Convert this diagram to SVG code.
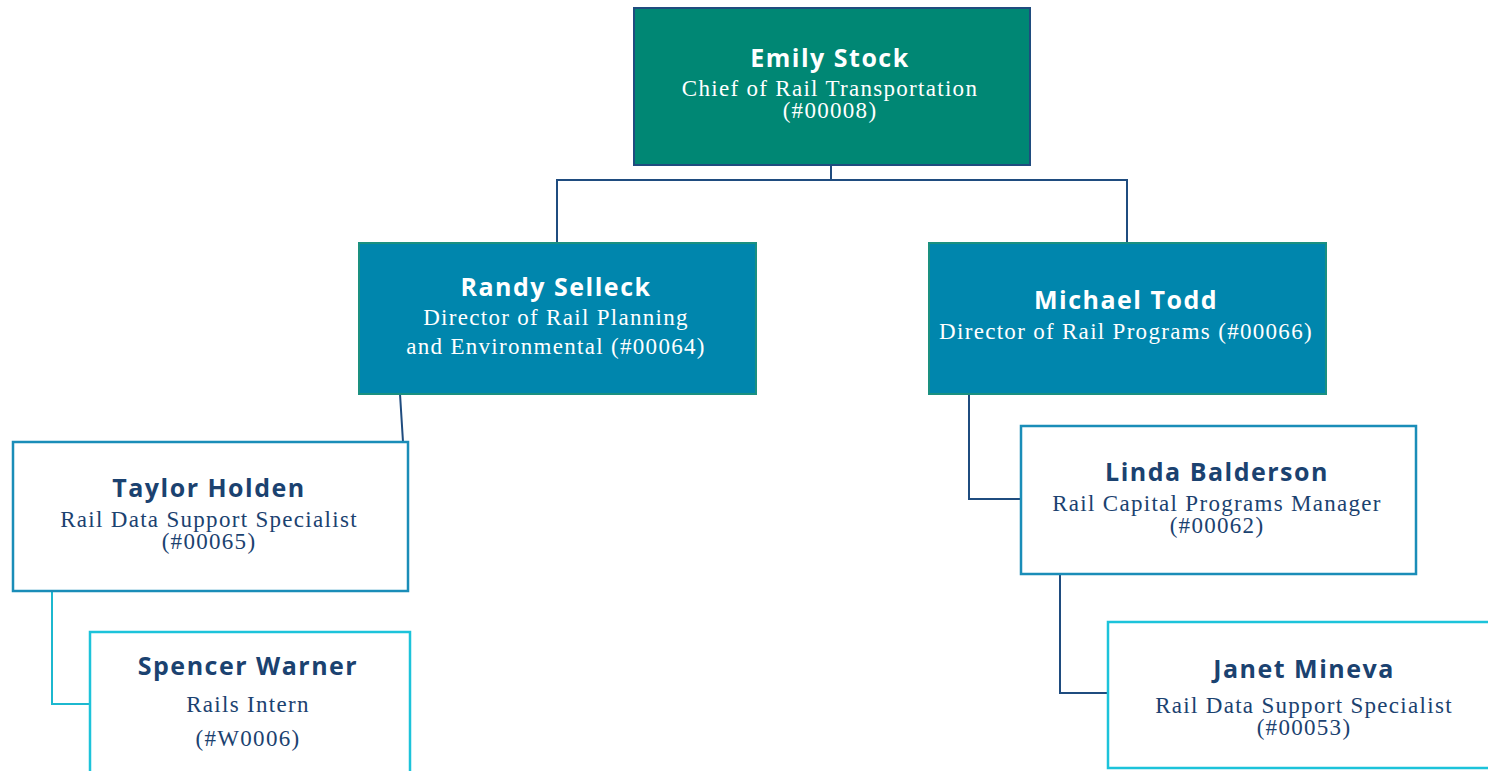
<svg xmlns="http://www.w3.org/2000/svg" width="1488" height="771" viewBox="0 0 1488 771">
<style>
.name{font-family:"Open Sans","Inter",sans-serif;font-weight:700;font-size:25px;text-anchor:middle;letter-spacing:1.5px}
.sub{font-family:"Liberation Serif","DejaVu Serif",serif;font-size:23px;text-anchor:middle;letter-spacing:1.3px}
.w{fill:#ffffff}
.n{fill:#1B4270}
.top{fill:#008774;stroke:#1F4C7F;stroke-width:2}
.dir{fill:#0086AD;stroke:#1A9080;stroke-width:2}
.mid{fill:#ffffff;stroke:#1A8DB8;stroke-width:2.5}
.low{fill:#ffffff;stroke:#1CC3DA;stroke-width:2.5}
.c{fill:none;stroke:#1F4C7F;stroke-width:2}
.cc{fill:none;stroke:#1CB8CF;stroke-width:2}
</style>
<rect width="1488" height="771" fill="#ffffff"/>
<g id="connectors">
<path class="c" d="M831 165 V180 H557 V243 M831 180 H1127 V243"/>
<path class="c" d="M400 394 L403 442"/>
<path class="cc" d="M52 591 V704 H90"/>
<path class="c" d="M969 394 V499 H1021"/>
<path class="c" stroke="#1D5A8A" d="M1060 574 V693 H1108"/>
</g>
<g id="emily">
<rect class="top" x="634" y="8" width="396" height="157"/>
<text class="name w" x="830" y="67">Emily Stock</text>
<text class="sub w" x="830" y="96">Chief of Rail Transportation</text>
<text class="sub w" x="830" y="118">(#00008)</text>
</g>
<g id="randy">
<rect class="dir" x="359" y="243" width="397" height="151"/>
<text class="name w" x="556" y="296">Randy Selleck</text>
<text class="sub w" x="556" y="325">Director of Rail Planning</text>
<text class="sub w" x="556" y="354">and Environmental (#00064)</text>
</g>
<g id="michael">
<rect class="dir" x="929" y="243" width="397" height="151"/>
<text class="name w" x="1126" y="309">Michael Todd</text>
<text class="sub w" x="1126" y="339">Director of Rail Programs (#00066)</text>
</g>
<g id="taylor">
<rect class="mid" x="13" y="442" width="395" height="149"/>
<text class="name n" x="209" y="497">Taylor Holden</text>
<text class="sub n" x="209" y="527">Rail Data Support Specialist</text>
<text class="sub n" x="209" y="549">(#00065)</text>
</g>
<g id="spencer">
<rect class="low" x="90" y="632" width="320" height="145"/>
<text class="name n" x="248" y="675">Spencer Warner</text>
<text class="sub n" x="248" y="712">Rails Intern</text>
<text class="sub n" x="248" y="746">(#W0006)</text>
</g>
<g id="linda">
<rect class="mid" x="1021" y="426" width="395" height="148"/>
<text class="name n" x="1217" y="481">Linda Balderson</text>
<text class="sub n" x="1217" y="511">Rail Capital Programs Manager</text>
<text class="sub n" x="1217" y="533">(#00062)</text>
</g>
<g id="janet">
<rect class="low" x="1108" y="622" width="392" height="146"/>
<text class="name n" x="1304" y="678">Janet Mineva</text>
<text class="sub n" x="1304" y="713">Rail Data Support Specialist</text>
<text class="sub n" x="1304" y="735">(#00053)</text>
</g>
</svg>
